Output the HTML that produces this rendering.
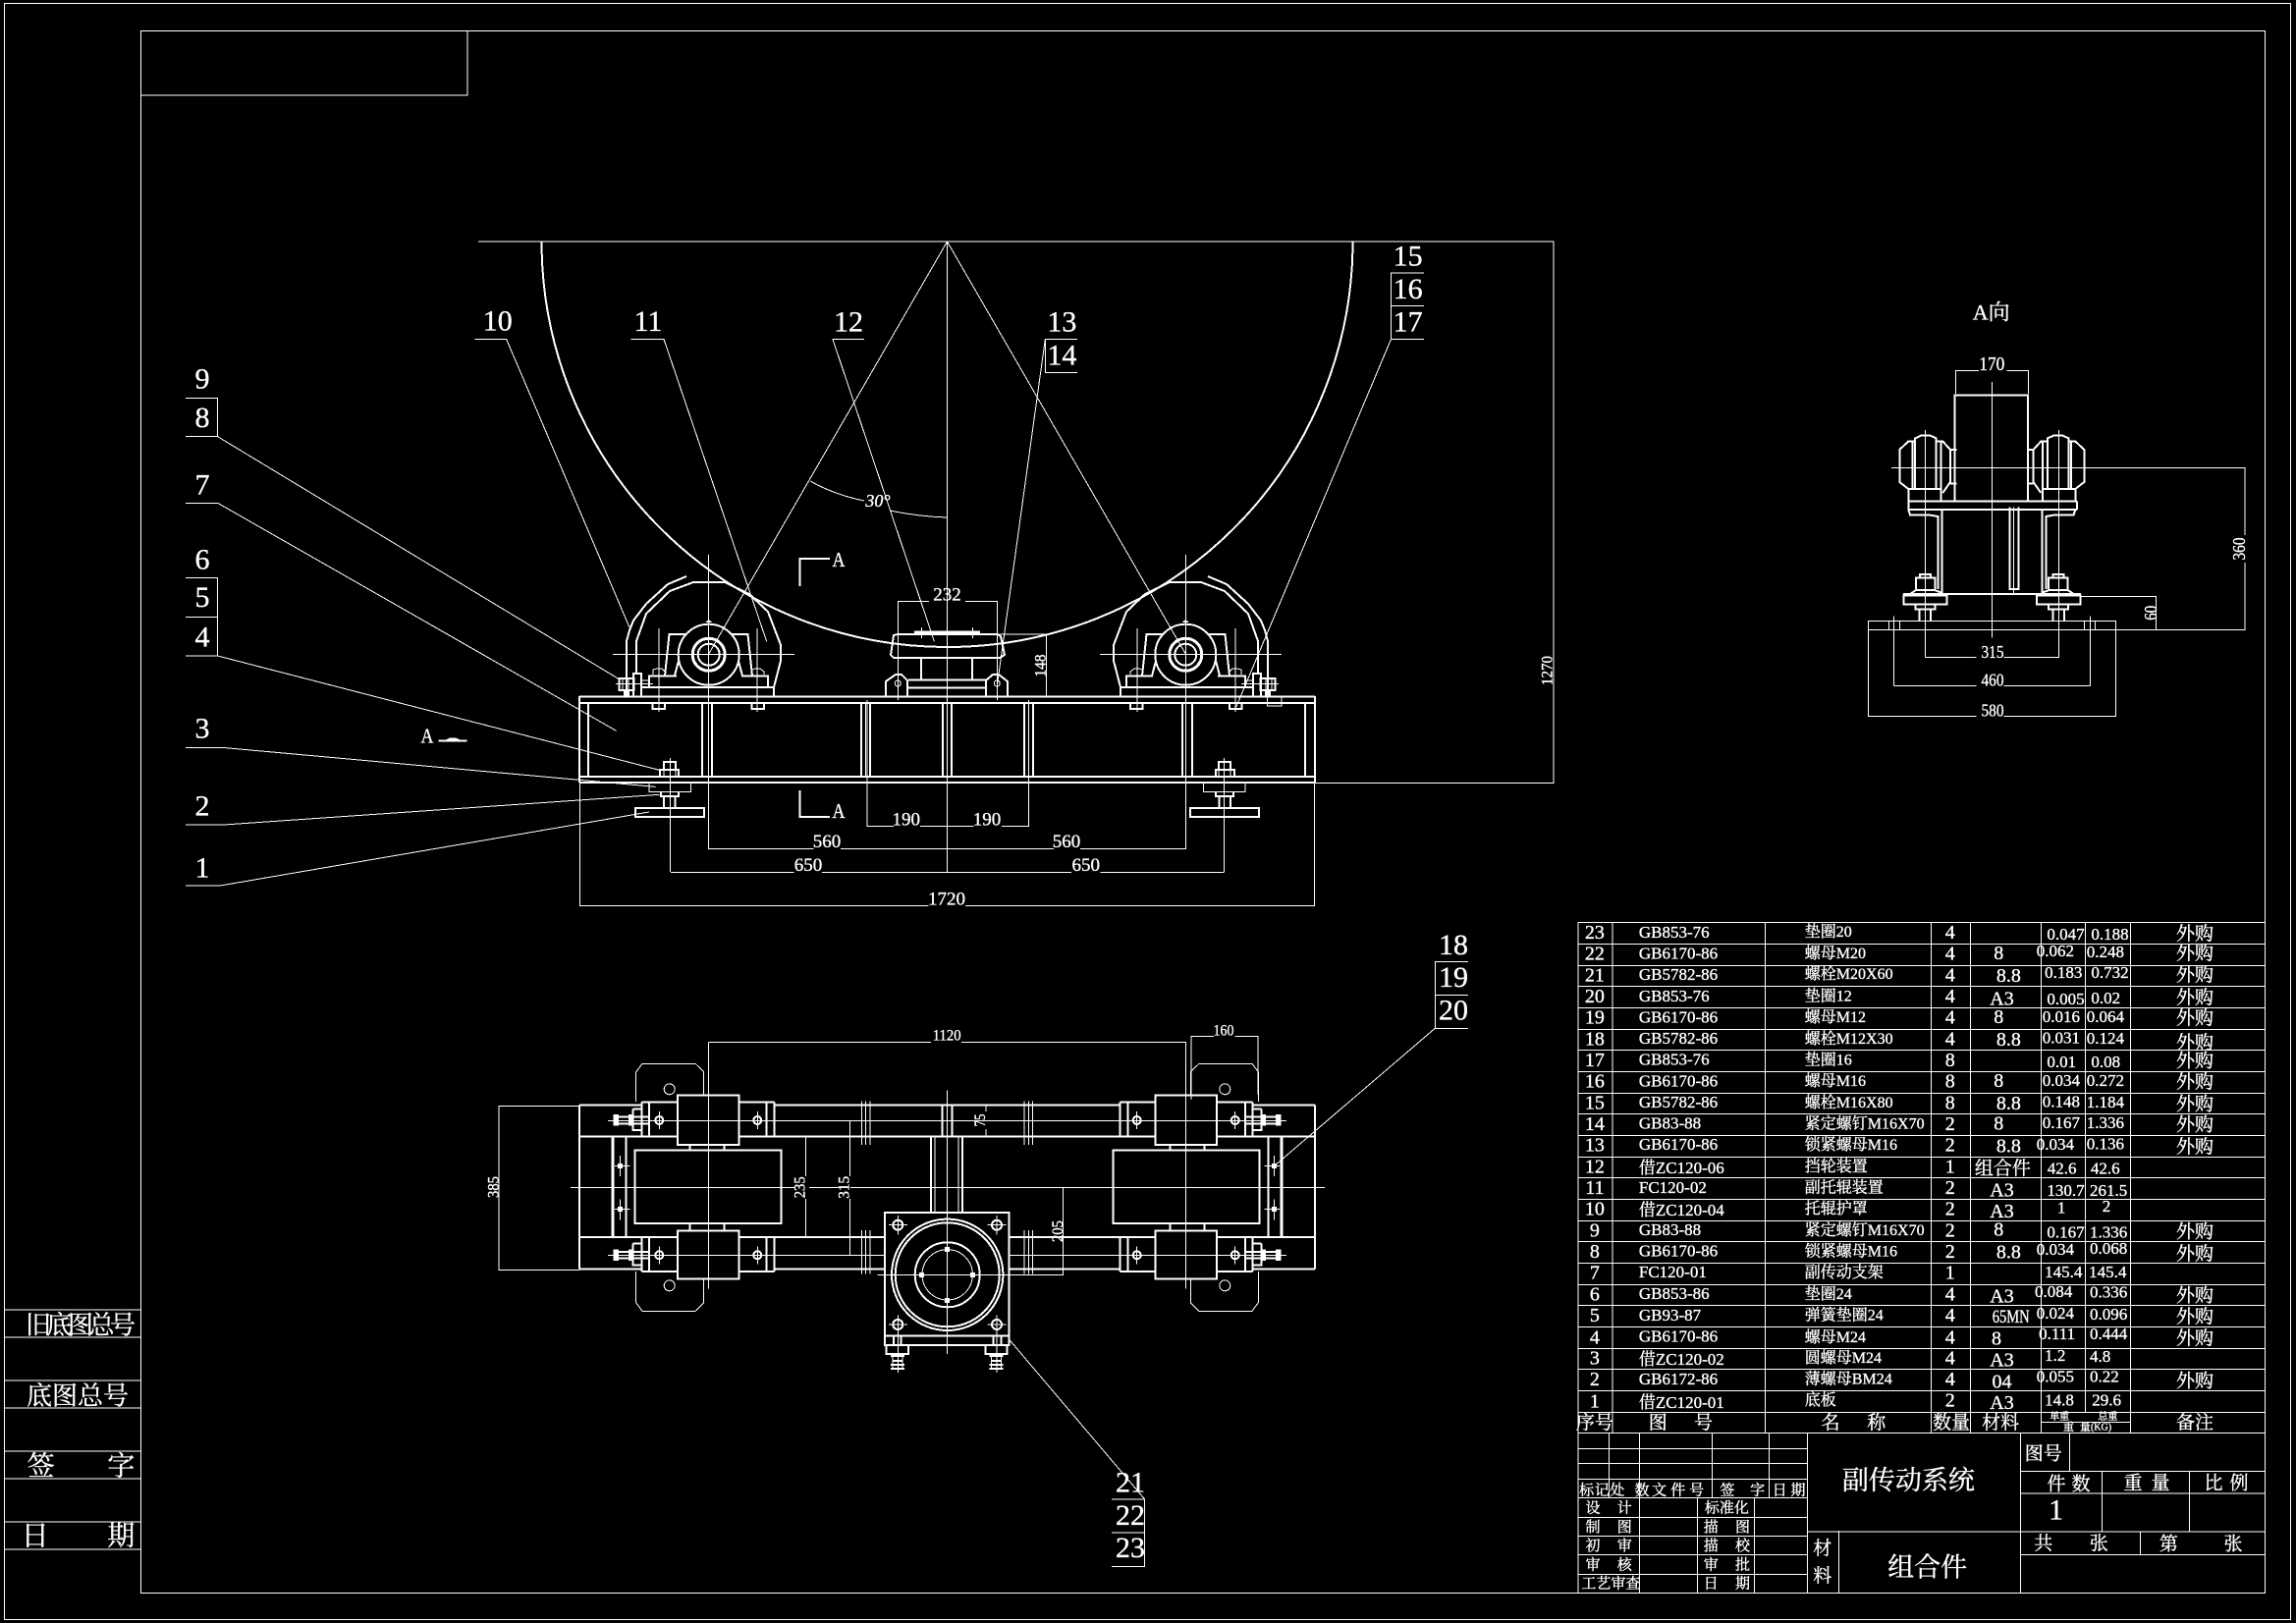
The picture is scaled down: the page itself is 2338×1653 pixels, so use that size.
<!DOCTYPE html>
<html><head><meta charset="utf-8"><title>副传动系统</title>
<style>
html,body{margin:0;padding:0;background:#000}
svg{display:block}
.l{stroke:#fff;stroke-width:1;fill:none}
.t{stroke:#fff;stroke-width:2;fill:none}
text{fill:#fff;font-family:"Liberation Serif","Noto Serif CJK SC",serif;dominant-baseline:central;stroke:#fff;stroke-width:.35px}
.m{text-anchor:middle}
.lb{font-size:30px;text-anchor:middle}
.d{font-size:19px;text-anchor:middle}
.s{font-size:16px;text-anchor:middle}
.tn{font-size:20px;text-anchor:middle}
.td{font-size:17px}
.tz{font-size:16px}
.tu{font-size:17px}
.tb{font-size:15px;text-anchor:middle;transform:translateY(1px)}
.ti{font-size:19px;text-anchor:middle;transform:translateY(1px)}
.big{font-size:27px;text-anchor:middle;transform:translateY(1.500px)}
</style></head><body>
<svg xmlns="http://www.w3.org/2000/svg" width="2338" height="1653" viewBox="0 0 2338 1653" shape-rendering="crispEdges">
<rect width="2338" height="1653" fill="#000"/>
<!-- frames -->
<rect class="l" x="4.5" y="3.5" width="2328" height="1646"/>
<rect class="l" x="143.5" y="31.5" width="2163" height="1591"/>
<path class="l" d="M143 97H476V31"/>
<path class="l" d="M5 1334H143M5 1362H143M5 1406H143M5 1434H143M5 1478H143M5 1506H143M5 1550H143M5 1578H143"/>
<text x="26" y="1350" style="font-size:26px;letter-spacing:-4.5px">旧底图总号</text>
<text x="27" y="1422" style="font-size:26px">底图总号</text>
<text class="m" x="41.7" y="1494" style="font-size:28px">签</text><text class="m" x="123.3" y="1494" style="font-size:28px">字</text>
<text class="m" x="35.7" y="1565" style="font-size:28px">日</text><text class="m" x="123.3" y="1565" style="font-size:28px">期</text>

<!-- MAIN VIEW -->
<path class="l" d="M487 246H1582V797.5H1338"/>
<path class="t" d="M551.5 246A413 413 0 0 0 1377.5 246"/>
<path class="l" d="M964.5 246V889M964.5 246L721.7 666M964.5 246L1207.3 666"/>
<path class="l" d="M825 490Q850 504 880 510M906 520Q935 526 964 527"/>
<text x="894" y="510" style="font-size:18px;font-style:italic;text-anchor:middle">30°</text>
<text class="s" transform="rotate(-90 1576 683)" x="1576" y="683" textLength="30" lengthAdjust="spacingAndGlyphs">1270</text>

<!-- base frame -->
<path class="t" d="M590 709.5H1339M590 716H1339M590 791H1339M590 797H1339M590 709V797M599 716V791M1329 716V791M1339 709V797"/>
<path class="t" d="M877 716V791M886 716V791M960 716V791M969 716V791M1043 716V791M1052 716V791"/>
<path class="l" d="M881.500 716V791M1047.500 716V791"/>
<g id="roll">
<polyline class="t" points="638,709 638,653 641,642 645,632 658,615 680,595 699,587"/>
<polyline class="t" points="648,685 648,653 658,625 682,602 706,593 738,593 763,605 782,623 795,657 795,673 788,700 788,709"/>
<path class="t" d="M653 700H788M653 700V709M661 700V688.500H677M689 688.500H677L681.500 646H698M687 688L691 673M782 700V688.500H766L761.500 646H745M766 688.500H756L752 673"/>
<circle class="t" cx="721.700" cy="666.700" r="31"/>
<circle class="t" cx="721.700" cy="666.700" r="16.500" style="stroke-width:3"/>
<circle class="t" cx="721.700" cy="666.700" r="11"/>
<path d="M718 634L721.700 631 725.500 634Z" fill="#fff"/>
<path class="l" d="M721.700 565V865M624 666.700H809M671 640V725M771 640V725"/>
<path class="l" d="M665 687V682L669 681H674L677 684V687M765.500 687V682L769 681H774L778 684V687"/>
<path class="t" d="M664.500 716V722H677V716M765.500 716V722H778V716"/>
<!-- cluster -->
<rect class="t" x="630.500" y="691" width="15" height="12"/>
<path class="t" d="M645 709V686H653V709M636 703V709M640 703V709"/>
<path class="l" d="M627 696.700H665M634 691V703M640 691V703M653 693H662M653 700H662"/>
<!-- main leg ribs -->
<path class="t" d="M715 716V791M725 716V791"/>
<path class="l" d="M721.700 716V791"/>
<!-- foot -->
<path class="t" d="M672 790V784H691V790M676 784V776H688V784"/>
<path class="l" d="M682.700 772V888M676 784V790M688 784V790"/>
<path class="l" d="M661 797V806.700H703.300V797"/>
<path class="t" d="M673 807V811H691V807M676 811V823M687.300 811V823"/>
<rect class="t" x="647" y="823" width="70" height="9"/>
</g>
<use href="#roll" transform="translate(1929 0) scale(-1 1)"/>
<path class="l" d="M1290.700 710V719H1305V710"/>
<!-- centre support -->
<path class="t" d="M910 647L914 646H1015L1019 648L1023 667L1018 670H910L907 667Z"/>
<path class="t" d="M931 643.500H998M931 645.500H998"/>
<path class="l" d="M938.300 639V650M990.700 639V650"/>
<path class="t" d="M938 670V692.700M990 670V692.700M925 692.700H1004M925 700.700H1004M902 709V694L912 687H918L924 693V709M1004 709V693L1011 687H1017L1026 694V709"/>
<circle class="l" cx="914.300" cy="696" r="3"/><circle class="l" cx="1015.300" cy="696" r="3"/>
<path class="l" d="M914.300 612.700V713M1015.500 612.700V713M914 612.700H946M983 612.700H1016M1015 646H1065.700V709M883 713V841.700H910M937 841.700H991.700M1020 841.700H1047.700V713"/>
<text class="d" x="964.500" y="606">232</text>
<text class="s" transform="rotate(-90 1060 678)" x="1060" y="678" textLength="23" lengthAdjust="spacingAndGlyphs">148</text>
<text class="d" x="922.700" y="835">190</text><text class="d" x="1005" y="835">190</text>
<path class="l" d="M721.700 864.500H828.600M856 864.500H1073M1100 864.500H1208"/>
<text class="d" x="842" y="857.600">560</text><text class="d" x="1086" y="857.600">560</text>
<path class="l" d="M682.900 888.400H808.600M837 888.400H1091M1120.700 888.400H1246.500"/>
<text class="d" x="823" y="881.500">650</text><text class="d" x="1105.700" y="881.500">650</text>
<path class="l" d="M590.500 797V922.400H945.700M983 922.400H1338.600V797"/>
<text class="d" x="964" y="916">1720</text>
<!-- section marks -->
<path class="t" d="M814.700 597V569H845M814.700 805V832H845"/>
<text class="m" x="854" y="570" style="font-size:21px" textLength="13" lengthAdjust="spacingAndGlyphs">A</text>
<text class="m" x="854" y="826" style="font-size:21px" textLength="13" lengthAdjust="spacingAndGlyphs">A</text>
<text class="m" x="435" y="749.600" style="font-size:21px" textLength="13" lengthAdjust="spacingAndGlyphs">A</text>
<path class="t" d="M446.700 754.700H475.700"/><path d="M453 754L458 751.500H464L470 754Z" fill="#fff"/>

<!-- balloons and leaders -->
<text class="lb" x="206" y="386">9</text><text class="lb" x="206" y="425.700">8</text>
<path class="l" d="M189 405.600H221.700V444.700H189M221.700 444.700L630 691.500"/>
<text class="lb" x="206" y="493.800">7</text>
<path class="l" d="M189 512.300H221.700L627.700 744.400"/>
<text class="lb" x="206" y="570">6</text><text class="lb" x="206" y="608.400">5</text><text class="lb" x="206" y="649">4</text>
<path class="l" d="M189 588.600H221.700V668H189M189 628.600H221.700M221.700 668L671.700 784.400"/>
<text class="lb" x="206" y="742">3</text>
<path class="l" d="M189 761.400H226.700L667.700 801.400"/>
<text class="lb" x="206" y="820.800">2</text>
<path class="l" d="M189 840H228L671.700 809.300"/>
<text class="lb" x="206" y="884">1</text>
<path class="l" d="M189 902.200H223L661 827"/>
<text class="lb" x="506.700" y="327">10</text>
<path class="l" d="M483.300 345.500H515.700L641 639"/>
<text class="lb" x="660" y="327.700">11</text>
<path class="l" d="M642.300 345.500H676L780.700 653.300"/>
<text class="lb" x="864" y="328">12</text>
<path class="l" d="M880 345.700H848L951.400 653.300"/>
<text class="lb" x="1081.400" y="327.800">13</text><text class="lb" x="1081.400" y="361.800">14</text>
<path class="l" d="M1097 345.700H1064.300V379.700H1097M1064.300 345.700L1015.700 696"/>
<text class="lb" x="1433.600" y="260.800">15</text><text class="lb" x="1433.600" y="294.300">16</text><text class="lb" x="1433.600" y="327.800">17</text>
<path class="l" d="M1450 278.200H1416.400V345.700H1450M1416.400 311.700H1450M1416.400 345.700L1258.600 720.400"/>
<text class="lb" x="1480" y="962.300">18</text><text class="lb" x="1480" y="995.700">19</text><text class="lb" x="1480" y="1029">20</text>
<path class="l" d="M1495 979.300H1461.300V1047.300H1495M1461.300 1013.300H1495M1461.300 1047.300L1297 1188"/>
<text class="lb" x="1151" y="1510">21</text><text class="lb" x="1151" y="1543.300">22</text><text class="lb" x="1151" y="1576.700">23</text>
<path class="l" d="M1132 1527H1165.700V1595.300H1132M1132 1561H1165.700M1165.700 1527L1018.300 1353.300"/>

<!-- TOP VIEW -->
<g id="tv">
<path class="l" d="M647.700 1122V1091.700L654 1083.300H708L716.700 1091.700V1115M647.700 1295V1326.700L654 1335.300H708L716.700 1326.700V1302"/>
<ellipse class="l" cx="681.700" cy="1109.300" rx="5.500" ry="5.500"/><ellipse class="l" cx="681.700" cy="1309.300" rx="5.500" ry="5.500"/>
<path class="t" d="M590 1125.700H653M590 1157.700H690M590 1260H690M590 1292.300H653M590 1125.700V1292.300"/>
<rect class="t" x="690" y="1115.700" width="62.300" height="50.300"/>
<rect class="t" x="690" y="1253.300" width="62.300" height="49"/>
<path class="t" d="M653.300 1122.700H690M752 1122.700H788.300M752 1157.700H788.300M653.300 1295H690M752 1295H788.300M752 1260H788.300"/>
<path class="t" d="M653.300 1122.700V1157.700M661 1122.700V1157.700M780.700 1122.700V1157.700M788.300 1122.700V1157.700M653.300 1260V1295M661 1260V1295M780.700 1260V1295M788.300 1260V1295"/>
<path class="t" d="M788 1125.700H964.500M788 1157.700H964.500M788 1260H901M788 1292.300H901"/>
<path class="l" d="M877.700 1121.700V1166M881.700 1121.700V1166M886 1121.700V1166M877.700 1253V1297.300M881.700 1253V1297.300M886 1253V1297.300"/>
<rect class="t" x="646.700" y="1171.700" width="148.600" height="74.300"/>
<path class="t" d="M702.700 1166V1171.700M737.700 1166V1171.700M702.700 1246V1253.300M737.700 1246V1253.300"/>
<path d="M622.300 1158h3.400v101h-3.400z" fill="#fff"/>
<path class="t" d="M637.700 1158V1259"/>
<rect x="629.200" y="1185.200" width="5" height="5" fill="#fff"/><rect x="629.200" y="1228.800" width="5" height="5" fill="#fff"/>
<path class="l" d="M626 1187.700H641.700M631.700 1177V1198M626 1231.300H641.700M631.700 1221.700V1242.700"/>
<path class="l" d="M721.300 1061.300V1312.700M619 1141.700H964.500M619 1278.300H964.500"/>
<g id="tvb">
<circle class="t" cx="671.300" cy="1141" r="4"/><circle class="t" cx="771.300" cy="1141" r="4"/>
<path class="l" d="M671.300 1132V1150M771.300 1132V1150"/>
<path d="M624.300 1135h5.700v11.700h-5.700zM640 1135h4.300v11.700H640z" fill="#fff"/>
<path class="t" d="M644.300 1129.300V1151H654M644.300 1129.300H654M630 1137.700H640M630 1144.300H640M644 1137.700H661M644 1144.300H661"/>
</g>
<use href="#tvb" transform="translate(0 137.300)"/>
</g>
<use href="#tv" transform="translate(1929 0) scale(-1 1)"/>
<path class="l" d="M580.800 1209.300H1349"/>
<path class="t" d="M959.500 1125.700V1157.700M969.500 1125.700V1157.700"/>
<path class="t" d="M948 1157.700V1234M980 1157.700V1234"/>
<path class="l" d="M952 1157.700V1234M976 1157.700V1234"/>
<!-- gearbox -->
<rect x="901" y="1235" width="126.700" height="135" fill="#000"/>
<rect class="t" x="901" y="1235" width="126.700" height="135"/>
<path class="t" d="M901 1360.700H1027.700M910 1360.700V1370M917.300 1360.700V1370M1011.700 1360.700V1370M1019.300 1360.700V1370"/>
<circle class="t" cx="964.700" cy="1298.300" r="56.700"/>
<circle class="t" cx="964.700" cy="1298.300" r="53"/>
<circle class="t" cx="964.700" cy="1298.300" r="33"/>
<circle class="l" cx="964.700" cy="1298.300" r="25.700"/>
<path d="M962.200 1269.800h5v5h-5zM962.200 1321.800h5v5h-5zM936.200 1295.800h5v5h-5zM988.200 1295.800h5v5h-5z" fill="#fff"/>
<path class="l" d="M964.700 1110.700V1379M893.300 1298.300H1082.700V1209.300"/>
<g id="gb"><circle class="t" cx="914.300" cy="1247.700" r="5"/><path class="l" d="M914.300 1238V1257.500M905 1247.700H924"/></g>
<use href="#gb" transform="translate(100.700 0)"/><use href="#gb" transform="translate(0 101.300)"/><use href="#gb" transform="translate(100.700 101.300)"/>
<g id="nut"><path class="t" d="M902.700 1370V1379H925V1370M907 1381H921M909 1386H919M907 1390H921M907 1394H921"/><path class="l" d="M909 1379V1395M919 1379V1395M914.300 1340V1398"/></g>
<use href="#nut" transform="translate(100.700 0)"/>
<!-- top view dims -->
<path class="l" d="M590 1126.700H507.900V1293.300H590"/>
<text class="s" transform="rotate(-90 503 1209)" x="503" y="1209" textLength="22" lengthAdjust="spacingAndGlyphs">385</text>
<path class="l" d="M820.700 1158V1198M820.700 1221V1259M865.700 1141.700V1198M865.700 1221V1278.300M1004 1126V1132M1004 1150V1157"/>
<rect x="810" y="1198" width="14" height="23" fill="#000"/><rect x="854" y="1198" width="12" height="23" fill="#000"/>
<text class="s" transform="rotate(-90 815 1209.300)" x="815" y="1209.300" textLength="22" lengthAdjust="spacingAndGlyphs">235</text>
<text class="s" transform="rotate(-90 860 1209.300)" x="860" y="1209.300" textLength="23" lengthAdjust="spacingAndGlyphs">315</text>
<text class="s" transform="rotate(-90 998.700 1141)" x="998.700" y="1141" textLength="13" lengthAdjust="spacingAndGlyphs">75</text>
<text class="s" transform="rotate(-90 1077.300 1254)" x="1077.300" y="1254" textLength="22" lengthAdjust="spacingAndGlyphs">205</text>
<path class="l" d="M721.400 1061.300H948M979 1061.300H1208M1213 1120V1055.700H1236M1257.300 1055.700H1281V1115"/>
<text class="s" x="964.200" y="1055" textLength="29" lengthAdjust="spacingAndGlyphs">1120</text>
<text class="s" x="1246" y="1050" textLength="21" lengthAdjust="spacingAndGlyphs">160</text>

<!-- A VIEW -->
<text class="m" x="2027.700" y="318" style="font-size:22px">A向</text>
<path class="l" d="M1991.300 401V377.300H2015M2043.300 377.300H2065.300V401"/>
<text class="d" x="2028.300" y="371" style="font-size:20px" textLength="26" lengthAdjust="spacingAndGlyphs">170</text>
<path class="t" d="M1990.700 510.700V402.300H2065V510.700M1943.300 510.700H2115M1943.300 519H2115M1943.300 510.700V519M2115 510.700V519"/>
<path class="l" d="M2028.300 389V649.300M1926 476.300H2286V641.300H2154M2286 476.300"/>
<g id="av">
<polyline class="t" points="1943.300,498 1934.300,491 1934.300,458 1943.300,449.500 1950,449.500 1950,446.500 1956.700,443.300 1965,443.300 1971.700,446.500 1971.700,449.500 1978.300,449.500 1986,458 1986,491 1978.300,502"/>
<path class="t" d="M1947.700 449.500V498M1950 449.500V498M1971.700 449.500V498M1976.700 449.500V498M1943.300 498H1976.700M1943.300 498V510.700M1976.700 498V510.700M1986 458H1992.700M1986 492.300H1992.700"/>
<path class="l" d="M1960.300 438V669.300"/>
<path class="t" d="M1943.300 519L1945 524.300H1963.300L1973.300 526V600M1977.300 519V605"/>
<path class="t" d="M1938.300 606.700H1982.700V615.700H1938.300Z"/>
<path class="t" d="M1951 600V588.300H1970.700V600M1955 588.300V585H1966V588.300M1945 605L1951 601H1970L1978 604"/>
<path class="t" d="M1950.700 615.700V620.700H1970.700V615.700M1954.700 620.700V632.300M1966 620.700V632.300"/>
<path class="l" d="M1928.300 627.300V698.300"/>
<path class="l" d="M1923.300 632.300V641.300M1934.300 632.300V641.300"/>
</g>
<use href="#av" transform="translate(4056.600 0) scale(-1 1)"/>
<path class="t" d="M1938 605H2119"/>
<path class="t" d="M2046.700 516.700V601M2055.700 516.700V601M2046.700 600H2055.700"/>
<path class="l" d="M2050.700 516.700V604"/>
<path class="l" d="M1902.300 632.300H2154.300V641.300H1902.300ZM1902.300 632V729.300H2012.700M2040.700 729.300H2154.300V632"/>
<path class="l" d="M1960.300 669.300H2012.700M2040.700 669.300H2097M1928.300 698.300H2012.700M2040.700 698.300H2128.300"/>
<text class="s" x="2029" y="664" style="font-size:18px" textLength="23" lengthAdjust="spacingAndGlyphs">315</text>
<text class="s" x="2029" y="692.300" style="font-size:18px" textLength="23" lengthAdjust="spacingAndGlyphs">460</text>
<text class="s" x="2029" y="723.300" style="font-size:18px" textLength="23" lengthAdjust="spacingAndGlyphs">580</text>
<path class="l" d="M2119 607.300H2195.700V641.300"/>
<text class="s" transform="rotate(-90 2190 624.300)" x="2190" y="624.300" style="font-size:18px" textLength="15" lengthAdjust="spacingAndGlyphs">60</text>
<rect x="2274" y="545" width="13" height="28" fill="#000"/>
<text class="s" transform="rotate(-90 2280 559)" x="2280" y="559" style="font-size:18px" textLength="23" lengthAdjust="spacingAndGlyphs">360</text>

<!-- PARTS TABLE -->
<path class="l" d="M1607 939.500H2306M1607 961.500H2306M1607 983.500H2306M1607 1004.500H2306M1607 1026.500H2306M1607 1048.500H2306M1607 1069.500H2306M1607 1091.500H2306M1607 1113.500H2306M1607 1134.500H2306M1607 1156.500H2306M1607 1178.500H2306M1607 1199.500H2306M1607 1221.500H2306M1607 1243.500H2306M1607 1264.500H2306M1607 1286.500H2306M1607 1308.500H2306M1607 1329.500H2306M1607 1351.500H2306M1607 1373.500H2306M1607 1394.500H2306M1607 1416.500H2306M1607 1438.500H2306M1607 1459.500H2306"/>
<path class="l" d="M1607 939V1622.500H2306M1642 939V1459M1797.500 939V1459M1966.500 939V1459M2006.500 939V1459M2078.500 939V1459M2123.500 939V1438M2169.500 939V1459M2078.500 1448.700H2169.500"/>
<!-- rows -->
<text class="tn" x="1623.900" y="950">23</text><text class="td" x="1668.900" y="949.300">GB853-76</text><text class="tz" x="1837.800" y="949.300">垫圈20</text><text class="tn" x="1985.700" y="950">4</text><text class="tu" x="2084.400" y="951.700">0.047</text><text class="tu" x="2129.400" y="951.700">0.188</text><text class="ti" x="2235" y="950.700">外购</text>
<text class="tn" x="1623.900" y="971.700">22</text><text class="td" x="1668.900" y="971">GB6170-86</text><text class="tz" x="1837.800" y="971.700">螺母M20</text><text class="tn" x="1985.700" y="971.700">4</text><text class="tn" x="2035.300" y="971">8</text><text class="tu" x="2073.800" y="968.700">0.062</text><text class="tu" x="2124.800" y="969.300">0.248</text><text class="ti" x="2235" y="970.700">外购</text>
<text class="tn" x="1623.900" y="993.300">21</text><text class="td" x="1668.900" y="992.700">GB5782-86</text><text class="tz" x="1837.800" y="992.700">螺栓M20X60</text><text class="tn" x="1985.700" y="993.300">4</text><text class="tn" x="2045.400" y="994">8.8</text><text class="tu" x="2082.100" y="990.300">0.183</text><text class="tu" x="2129.400" y="990.300">0.732</text><text class="ti" x="2235" y="992.300">外购</text>
<text class="tn" x="1623.900" y="1015">20</text><text class="td" x="1668.900" y="1014.300">GB853-76</text><text class="tz" x="1837.800" y="1015">垫圈12</text><text class="tn" x="1985.700" y="1015">4</text><text class="tn" x="2038.500" y="1017.300">A3</text><text class="tu" x="2084.400" y="1017.300">0.005</text><text class="tu" x="2129.400" y="1016.700">0.02</text><text class="ti" x="2235" y="1015.700">外购</text>
<text class="tn" x="1623.900" y="1036.700">19</text><text class="td" x="1668.900" y="1036">GB6170-86</text><text class="tz" x="1837.800" y="1036.700">螺母M12</text><text class="tn" x="1985.700" y="1036.700">4</text><text class="tn" x="2035.300" y="1036">8</text><text class="tu" x="2079.800" y="1035.300">0.016</text><text class="tu" x="2124.800" y="1035.300">0.064</text><text class="ti" x="2235" y="1036.700">外购</text>
<text class="tn" x="1623.900" y="1058.300">18</text><text class="td" x="1668.900" y="1057.700">GB5782-86</text><text class="tz" x="1837.800" y="1058.300">螺栓M12X30</text><text class="tn" x="1985.700" y="1058.300">4</text><text class="tn" x="2045.400" y="1059">8.8</text><text class="tu" x="2079.800" y="1057">0.031</text><text class="tu" x="2124.800" y="1057.700">0.124</text><text class="ti" x="2235" y="1061.700">外购</text>
<text class="tn" x="1623.900" y="1080">17</text><text class="td" x="1668.900" y="1079">GB853-76</text><text class="tz" x="1837.800" y="1080">垫圈16</text><text class="tn" x="1985.700" y="1080">8</text><text class="tu" x="2084.400" y="1081.700">0.01</text><text class="tu" x="2129.400" y="1081.700">0.08</text><text class="ti" x="2235" y="1080">外购</text>
<text class="tn" x="1623.900" y="1101.700">16</text><text class="td" x="1668.900" y="1101">GB6170-86</text><text class="tz" x="1837.800" y="1101.700">螺母M16</text><text class="tn" x="1985.700" y="1101.700">8</text><text class="tn" x="2035.300" y="1101">8</text><text class="tu" x="2079.800" y="1100.300">0.034</text><text class="tu" x="2124.800" y="1100.300">0.272</text><text class="ti" x="2235" y="1101.700">外购</text>
<text class="tn" x="1623.900" y="1123.300">15</text><text class="td" x="1668.900" y="1122.700">GB5782-86</text><text class="tz" x="1837.800" y="1123.300">螺栓M16X80</text><text class="tn" x="1985.700" y="1123.300">8</text><text class="tn" x="2045.400" y="1124">8.8</text><text class="tu" x="2079.800" y="1122">0.148</text><text class="tu" x="2124.800" y="1122.700">1.184</text><text class="ti" x="2235" y="1124">外购</text>
<text class="tn" x="1623.900" y="1145">14</text><text class="td" x="1668.900" y="1144">GB83-88</text><text class="tz" x="1837.800" y="1145">紧定螺钉M16X70</text><text class="tn" x="1985.700" y="1145">2</text><text class="tn" x="2035.300" y="1144.300">8</text><text class="tu" x="2079.800" y="1143.700">0.167</text><text class="tu" x="2124.800" y="1143.700">1.336</text><text class="ti" x="2235" y="1145">外购</text>
<text class="tn" x="1623.900" y="1166.700">13</text><text class="td" x="1668.900" y="1165.700">GB6170-86</text><text class="tz" x="1837.800" y="1166.700">锁紧螺母M16</text><text class="tn" x="1985.700" y="1166.700">2</text><text class="tn" x="2045.400" y="1167.300">8.8</text><text class="tu" x="2073.800" y="1165.700">0.034</text><text class="tu" x="2124.800" y="1165">0.136</text><text class="ti" x="2235" y="1167.300">外购</text>
<text class="tn" x="1623.900" y="1188.300">12</text><text class="td" x="1668.900" y="1189.300">借ZC120-06</text><text class="tz" x="1837.800" y="1188.300">挡轮装置</text><text class="tn" x="1985.700" y="1188.300">1</text><text class="ti" x="2039.400" y="1189.300">组合件</text><text class="tu" x="2084.800" y="1190">42.6</text><text class="tu" x="2128.900" y="1190">42.6</text>
<text class="tn" x="1623.900" y="1210">11</text><text class="td" x="1668.900" y="1209.300">FC120-02</text><text class="tz" x="1837.800" y="1210">副托辊装置</text><text class="tn" x="1985.700" y="1210">2</text><text class="tn" x="2038.500" y="1212.300">A3</text><text class="tu" x="2084.400" y="1212.300">130.7</text><text class="tu" x="2128" y="1212.300">261.5</text>
<text class="tn" x="1623.900" y="1231.700">10</text><text class="td" x="1668.900" y="1232.700">借ZC120-04</text><text class="tz" x="1837.800" y="1231.700">托辊护罩</text><text class="tn" x="1985.700" y="1231.700">2</text><text class="tn" x="2038.500" y="1234">A3</text><text class="tu m" x="2099.100" y="1230">1</text><text class="tu m" x="2145" y="1228.300">2</text>
<text class="tn" x="1623.900" y="1253.300">9</text><text class="td" x="1668.900" y="1252.300">GB83-88</text><text class="tz" x="1837.800" y="1253.300">紧定螺钉M16X70</text><text class="tn" x="1985.700" y="1253.300">2</text><text class="tn" x="2035.300" y="1252.700">8</text><text class="tu" x="2084.400" y="1255">0.167</text><text class="tu" x="2128" y="1255">1.336</text><text class="ti" x="2235" y="1254">外购</text>
<text class="tn" x="1623.900" y="1275">8</text><text class="td" x="1668.900" y="1274">GB6170-86</text><text class="tz" x="1837.800" y="1275">锁紧螺母M16</text><text class="tn" x="1985.700" y="1275">2</text><text class="tn" x="2045.400" y="1275.700">8.8</text><text class="tu" x="2073.800" y="1272.300">0.034</text><text class="tu" x="2128" y="1271.700">0.068</text><text class="ti" x="2235" y="1276.700">外购</text>
<text class="tn" x="1623.900" y="1296.700">7</text><text class="td" x="1668.900" y="1295.700">FC120-01</text><text class="tz" x="1837.800" y="1296.700">副传动支架</text><text class="tn" x="1985.700" y="1296.700">1</text><text class="tu" x="2082.100" y="1295.700">145.4</text><text class="tu" x="2127.100" y="1295.700">145.4</text>
<text class="tn" x="1623.900" y="1318.300">6</text><text class="td" x="1668.900" y="1317.700">GB853-86</text><text class="tz" x="1837.800" y="1318.300">垫圈24</text><text class="tn" x="1985.700" y="1318.300">4</text><text class="tn" x="2038.500" y="1320.700">A3</text><text class="tu" x="2072" y="1315.300">0.084</text><text class="tu" x="2128" y="1316">0.336</text><text class="ti" x="2235" y="1319">外购</text>
<text class="tn" x="1623.900" y="1340">5</text><text class="td" x="1668.900" y="1339.300">GB93-87</text><text class="tz" x="1837.800" y="1340">弹簧垫圈24</text><text class="tn" x="1985.700" y="1340">4</text><text class="tn" x="2047.700" y="1341.700" style="font-size:19px" textLength="38" lengthAdjust="spacingAndGlyphs">65MN</text><text class="tu" x="2073.800" y="1337.300">0.024</text><text class="tu" x="2128" y="1338.300">0.096</text><text class="ti" x="2235" y="1340.700">外购</text>
<text class="tn" x="1623.900" y="1362.300">4</text><text class="td" x="1668.900" y="1361">GB6170-86</text><text class="tz" x="1837.800" y="1362.300">螺母M24</text><text class="tn" x="1985.700" y="1362.300">4</text><text class="tn" x="2033" y="1363.300">8</text><text class="tu" x="2076.100" y="1358.700">0.111</text><text class="tu" x="2128" y="1358.700">0.444</text><text class="ti" x="2235" y="1362.700">外购</text>
<text class="tn" x="1623.900" y="1383.300">3</text><text class="td" x="1668.900" y="1384.300">借ZC120-02</text><text class="tz" x="1837.800" y="1383.300">圆螺母M24</text><text class="tn" x="1985.700" y="1383.300">4</text><text class="tn" x="2038.500" y="1385.700">A3</text><text class="tu" x="2082.100" y="1380.700">1.2</text><text class="tu" x="2128" y="1381.700">4.8</text>
<text class="tn" x="1623.900" y="1405">2</text><text class="td" x="1668.900" y="1404.300">GB6172-86</text><text class="tz" x="1837.800" y="1405">薄螺母BM24</text><text class="tn" x="1985.700" y="1405">4</text><text class="tn" x="2038.500" y="1407.300">04</text><text class="tu" x="2073.800" y="1402">0.055</text><text class="tu" x="2128" y="1402">0.22</text><text class="ti" x="2235" y="1406">外购</text>
<text class="tn" x="1623.900" y="1427.300">1</text><text class="td" x="1668.900" y="1428.300">借ZC120-01</text><text class="tz" x="1837.800" y="1426.700">底板</text><text class="tn" x="1985.700" y="1426.700">2</text><text class="tn" x="2038.500" y="1429">A3</text><text class="tu" x="2082.100" y="1426">14.8</text><text class="tu" x="2130.300" y="1426">29.6</text>
<!-- header -->
<text class="ti" x="1623.900" y="1448.300">序号</text><text class="ti" x="1688.200" y="1448.300">图</text><text class="ti" x="1734.500" y="1448.300">号</text><text class="ti" x="1864" y="1448.300">名</text><text class="ti" x="1910.800" y="1448.300">称</text><text class="ti" x="1987" y="1448.300">数量</text><text class="ti" x="2037.100" y="1448.300">材料</text>
<text class="m" x="2097.200" y="1443.300" style="font-size:10px">单重</text><text class="m" x="2146.400" y="1443.300" style="font-size:10px">总重</text>
<text class="m" x="2106.400" y="1454" style="font-size:11px">重</text><text class="m" x="2123.400" y="1454" style="font-size:11px">量</text><text class="m" x="2139.500" y="1454" style="font-size:10px">(KG)</text>
<text class="ti" x="2235" y="1448.300">备注</text>

<!-- TITLE BLOCK -->
<path class="l" d="M1607 1475.500H1840.500M1607 1490.500H1840.500M1607 1506.500H1840.500M1607 1525.500H1840.500M1607 1545.500H1840.500M1607 1564.500H1840.500M1607 1583.500H1840.500M1607 1603.500H1840.500"/>
<path class="l" d="M1638.500 1459V1525M1669.500 1459V1622M1743.500 1459V1525M1801.500 1459V1525M1728.500 1525V1622M1786.500 1525V1622M1840.500 1459V1622"/>
<path class="l" d="M1840.500 1560H2306M1872.500 1559V1622M2057.500 1459V1622M2057.500 1498.500H2306M2057.500 1521H2306M2057.500 1583.500H2306M2107.500 1459V1498M2140.500 1498V1560M2229.500 1498V1560M2179.500 1560V1583"/>
<text class="tb" x="1615.600" y="1517.300">标</text><text class="tb" x="1631.200" y="1517.300">记</text><text class="tb" x="1646.800" y="1517.300">处</text><text class="tb" x="1672" y="1517.300">数</text><text class="tb" x="1689.500" y="1517.300">文</text><text class="tb" x="1708.800" y="1517.300">件</text><text class="tb" x="1727.600" y="1517.300">号</text><text class="tb" x="1758.900" y="1517.300">签</text><text class="tb" x="1789.600" y="1517.300">字</text><text class="tb" x="1812.100" y="1517.300">日</text><text class="tb" x="1831" y="1517.300">期</text>
<text class="tb" x="1622" y="1535.300">设</text><text class="tb" x="1654.200" y="1535.300">计</text><text class="tb" x="1758.400" y="1535.300">标准化</text>
<text class="tb" x="1622" y="1555">制</text><text class="tb" x="1654.200" y="1555">图</text><text class="tb" x="1742.300" y="1555">描</text><text class="tb" x="1774.500" y="1555">图</text>
<text class="tb" x="1622" y="1574">初</text><text class="tb" x="1654.200" y="1574">审</text><text class="tb" x="1742.300" y="1574">描</text><text class="tb" x="1774.500" y="1574">校</text>
<text class="tb" x="1622" y="1593.300">审</text><text class="tb" x="1654.200" y="1593.300">核</text><text class="tb" x="1742.300" y="1593.300">审</text><text class="tb" x="1774.500" y="1593.300">批</text>
<text class="tb" x="1640.400" y="1612.700">工艺审查</text><text class="tb" x="1742.300" y="1612.700">日</text><text class="tb" x="1774.500" y="1612.700">期</text>
<text class="big" x="1943.400" y="1506.700">副传动系统</text>
<text class="big" x="1962.700" y="1595">组合件</text>
<text class="ti" x="1855.700" y="1576.700">材</text><text class="ti" x="1855.700" y="1604.300">料</text>
<text class="ti" x="2080.700" y="1480">图号</text>
<text class="ti" x="2094" y="1511">件</text><text class="ti" x="2119" y="1511">数</text>
<text class="ti" x="2172" y="1510">重</text><text class="ti" x="2200" y="1510">量</text>
<text class="ti" x="2254" y="1510">比</text><text class="ti" x="2280" y="1510">例</text>
<text class="m" x="2093.600" y="1538" style="font-size:30px">1</text>
<text class="ti" x="2080.700" y="1571.700">共</text><text class="ti" x="2137.200" y="1571.700">张</text><text class="ti" x="2208.400" y="1572">第</text><text class="ti" x="2274" y="1572">张</text>
</svg>
</body></html>
